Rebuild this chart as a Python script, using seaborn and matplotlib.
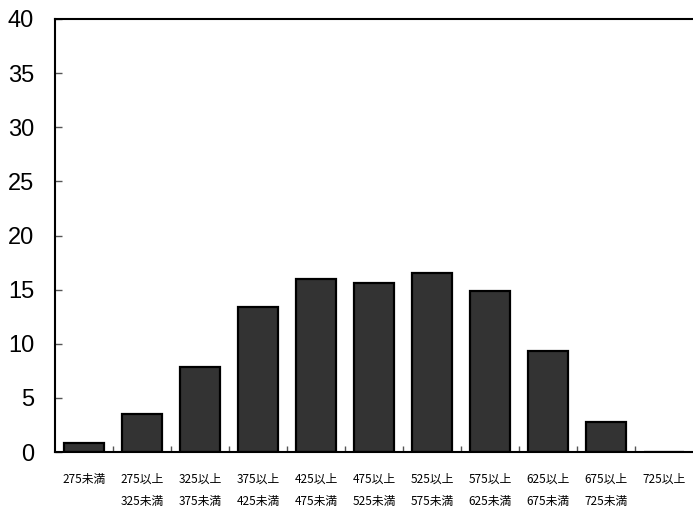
import seaborn as sns
import matplotlib.pyplot as plt
import pandas as pd

# class ranges (points) and share of students (%)
categories = ["275未満", "275以上\n325未満", "325以上\n375未満", "375以上\n425未満",
              "425以上\n475未満", "475以上\n525未満", "525以上\n575未満", "575以上\n625未満",
              "625以上\n675未満", "675以上\n725未満", "725以上"]
values = [0.8, 3.5, 7.9, 13.4, 16.0, 15.6, 16.5, 14.9, 9.3, 2.8, 0.0]
yticks = [0, 5, 10, 15, 20, 25, 30, 35, 40]

df = pd.DataFrame({"range": categories, "pct": values})

sns.set_style("white")
plt.rcParams['font.family'] = ['Liberation Sans', 'Noto Sans CJK JP', 'DejaVu Sans']

fig = plt.figure(figsize=(6.93, 5.08), dpi=100)
ax = fig.add_axes([0.0794, 0.110, 0.9206, 0.8526])

sns.barplot(data=df, x="range", y="pct", color="#333333", saturation=1,
            edgecolor="black", linewidth=1.6, width=0.69, ax=ax)

ax.set_ylim(0, 40)
ax.set_xlim(-0.5, len(categories) - 0.5)
ax.set_yticks(yticks)
ax.set_yticklabels([str(t) for t in yticks], fontsize=17, family='Liberation Sans')
ax.tick_params(axis='y', direction='in', length=5, width=1, color='#555555',
               labelcolor='black', pad=15, left=True)

ax.set_xticks(range(len(categories)))
ax.set_xticklabels(categories, fontsize=8.5, family=['Noto Sans CJK JP'], linespacing=1.95)
ax.tick_params(axis='x', length=0, pad=15, labelcolor='black')
ax.set_xticks([i + 0.5 for i in range(len(categories) - 1)], minor=True)
ax.tick_params(axis='x', which='minor', direction='in', length=4, width=1, color='#555555', bottom=True)

ax.spines['right'].set_visible(False)
for side in ['left', 'bottom', 'top']:
    ax.spines[side].set_color('black')
    ax.spines[side].set_linewidth(1.5)

ax.set_xlabel("")
ax.set_ylabel("")
plt.savefig("out.png", dpi=100)
